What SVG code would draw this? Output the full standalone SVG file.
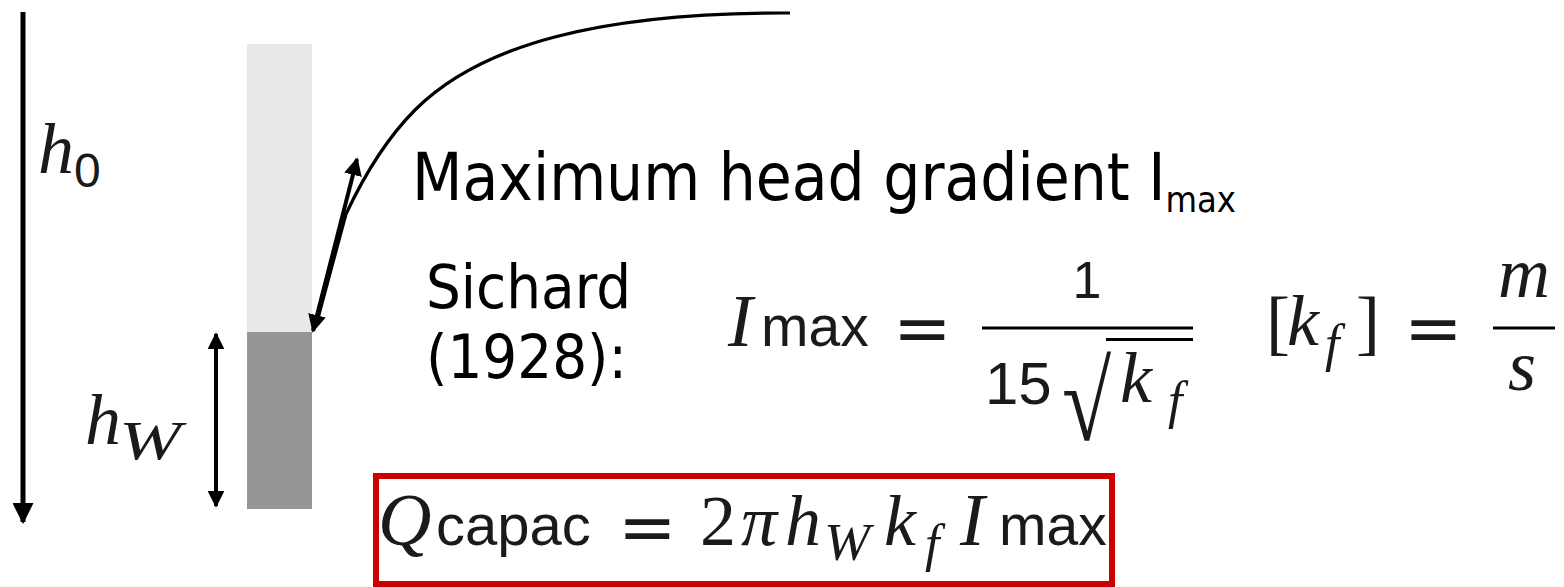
<svg xmlns="http://www.w3.org/2000/svg" width="1564" height="587" viewBox="0 0 1564 587">
<style>
.t{font-family:"DejaVu Sans Condensed","DejaVu Sans",sans-serif;fill:#000}
.mi{font-family:"Liberation Serif",serif;font-style:italic;fill:#1a1a1a}
.mr{font-family:"Liberation Serif",serif;fill:#1a1a1a}
.ms{font-family:"Liberation Sans",sans-serif;fill:#1a1a1a}
.eq{font-family:"DejaVu Sans",sans-serif;fill:#1a1a1a}
.ln{stroke:#000;fill:none}
</style>
<defs>
<marker id="ah" viewBox="0 0 10 10" refX="9" refY="5" markerWidth="4.2" markerHeight="4.2" orient="auto-start-reverse" markerUnits="strokeWidth">
<path d="M0,0 L10,5 L0,10 z" fill="#000"/>
</marker>
<marker id="ah2" viewBox="0 0 10 10" refX="9" refY="5" markerWidth="4.5" markerHeight="4.5" orient="auto-start-reverse" markerUnits="strokeWidth">
<path d="M0,0 L10,5 L0,10 z" fill="#000"/>
</marker>
</defs>

<g id="well">
<rect x="247" y="44" width="65" height="288" fill="#e8e8e8"/>
<rect x="247" y="332" width="65" height="177" fill="#969696"/>
</g>

<g id="connectors">
<line class="ln" x1="23" y1="12" x2="23" y2="522" stroke-width="5" marker-end="url(#ah)"/>
<line class="ln" x1="216" y1="334" x2="216" y2="506" stroke-width="4" marker-start="url(#ah)" marker-end="url(#ah)"/>
<path class="ln" d="M790,13 C600,12 480,45 415,110 C385,140 362,180 346,214 L318,318" stroke-width="3.2"/>
<line class="ln" x1="313" y1="331" x2="357" y2="159" stroke-width="4" marker-start="url(#ah2)" marker-end="url(#ah2)"/>
</g>

<g id="label-h0">
<text class="mi" x="38" y="173" font-size="72">h</text>
<text class="ms" x="74" y="187" font-size="48">0</text>
</g>

<g id="label-hW">
<text class="mi" x="85" y="444" font-size="72">h</text>
<text class="mi" x="119" y="459" font-size="54" textLength="62" lengthAdjust="spacingAndGlyphs">W</text>
</g>

<g id="title">
<text class="t" x="412" y="200" font-size="65">Maximum head gradient I<tspan font-size="36" dy="12">max</tspan></text>
</g>

<g id="sichard">
<text class="t" x="426" y="308" font-size="61">Sichard</text>
<text class="t" x="426" y="378" font-size="61">(1928):</text>
</g>

<g id="eq-imax">
<text class="mi" x="728" y="346" font-size="74">I</text>
<text class="ms" x="761" y="346" font-size="57">max</text>
<text class="eq" x="893" y="352" font-size="70">=</text>
<text class="ms" x="1087" y="298" font-size="52" text-anchor="middle">1</text>
<line class="ln" x1="982" y1="328" x2="1193" y2="328" stroke-width="3"/>
<text class="ms" x="985" y="404" font-size="60">15</text>
<text class="mr" x="1062" y="440" font-size="112" transform="translate(1062,440) scale(0.8,1) translate(-1062,-440)">√</text>
<line class="ln" x1="1106" y1="339.5" x2="1193" y2="339.5" stroke-width="3"/>
<text class="mi" x="1120" y="402" font-size="72">k</text>
<text class="mi" x="1168" y="418" font-size="52">f</text>
</g>

<g id="eq-units">
<text class="mr" x="1266" y="346" font-size="72">[</text>
<text class="mi" x="1287" y="345" font-size="72">k</text>
<text class="mi" x="1325" y="361" font-size="52">f</text>
<text class="mr" x="1356" y="346" font-size="72">]</text>
<text class="eq" x="1404" y="352" font-size="70">=</text>
<line class="ln" x1="1493" y1="328" x2="1555" y2="328" stroke-width="3"/>
<text class="mi" x="1524" y="297" font-size="72" text-anchor="middle">m</text>
<text class="mi" x="1522" y="390" font-size="72" text-anchor="middle">s</text>
</g>

<g id="eq-qcapac">
<rect x="376" y="476" width="736" height="108" fill="none" stroke="#cc0000" stroke-width="6"/>
<text class="mi" x="378" y="545" font-size="74">Q</text>
<text class="ms" x="436" y="545" font-size="58">capac</text>
<text class="eq" x="618" y="551" font-size="70">=</text>
<text class="mr" x="700" y="545" font-size="72">2</text>
<text class="mi" x="741" y="545" font-size="72">π</text>
<text class="mi" x="785" y="545" font-size="72">h</text>
<text class="mi" x="824" y="560" font-size="52" textLength="46" lengthAdjust="spacingAndGlyphs">W</text>
<text class="mi" x="884" y="545" font-size="72">k</text>
<text class="mi" x="925" y="561" font-size="52">f</text>
<text class="mi" x="960" y="545" font-size="74">I</text>
<text class="ms" x="999" y="545" font-size="57">max</text>
</g>
</svg>
